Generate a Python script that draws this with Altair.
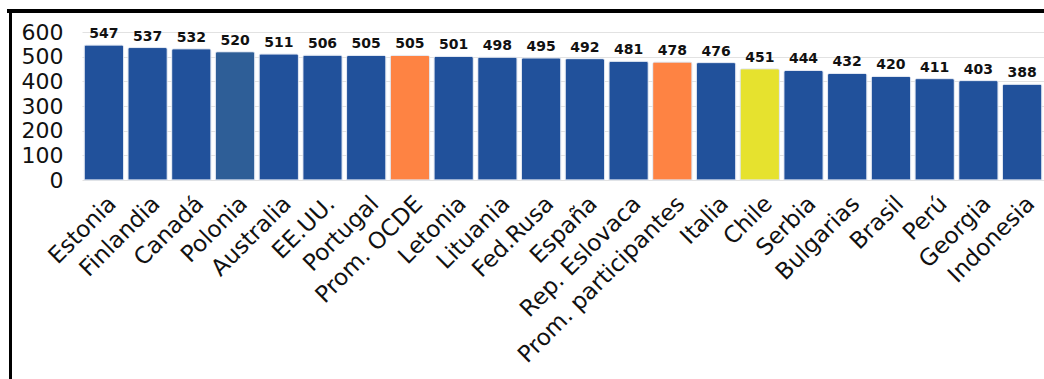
import altair as alt
import pandas as pd

countries = ["Estonia", "Finlandia", "Canadá", "Polonia", "Australia", "EE.UU.", "Portugal",
             "Prom. OCDE", "Letonia", "Lituania", "Fed.Rusa", "España", "Rep. Eslovaca",
             "Prom. participantes", "Italia", "Chile", "Serbia", "Bulgarias", "Brasil",
             "Perú", "Georgia", "Indonesia"]
scores = [547, 537, 532, 520, 511, 506, 505, 505, 501, 498, 495, 492, 481, 478, 476,
          451, 444, 432, 420, 411, 403, 388]
groups = ["país", "país", "país", "Polonia", "país", "país", "país", "promedio", "país",
          "país", "país", "país", "país", "promedio", "país", "Chile", "país", "país",
          "país", "país", "país", "país"]
y_ticks = [0, 100, 200, 300, 400, 500, 600]

df = pd.DataFrame({"pais": countries, "puntaje": scores, "grupo": groups})

FONT = "DejaVu Sans"
W, H = 962, 148

x_enc = alt.X("pais:N", sort=countries, title=None,
              scale=alt.Scale(paddingInner=0.1, paddingOuter=0.05),
              axis=alt.Axis(labelAngle=-45, labelAlign="right", labelBaseline="top",
                            labelFontSize=23, labelFont=FONT, labelColor="#111",
                            labelPadding=12, labelOffset=1, ticks=False, domain=False,
                            labelOverlap=False, labelLimit=400, labelBound=False))
y_enc = alt.Y("puntaje:Q", title=None,
              scale=alt.Scale(domain=[0, 600], nice=False),
              axis=alt.Axis(values=y_ticks, labelFontSize=22, labelFont=FONT,
                            labelColor="#111", labelPadding=19, ticks=False,
                            labelOverlap=False, domain=False, gridColor="#e2e2e2",
                            gridWidth=1))

color_enc = alt.Color("grupo:N", legend=None,
                      scale=alt.Scale(domain=["país", "Polonia", "promedio", "Chile"],
                                      range=["#21519b", "#2e5e97", "#fe8343", "#e6e22e"]))

bars = alt.Chart(df).mark_bar(cornerRadiusTopLeft=2, cornerRadiusTopRight=2,
                              stroke="#dfe6f1", strokeWidth=0.8).encode(
    x=x_enc, y=y_enc, color=color_enc)

labels = alt.Chart(df).mark_text(baseline="bottom", dy=-4, fontSize=14,
                                 fontWeight="bold", font=FONT, color="#111").encode(
    x=x_enc, y=y_enc, text="puntaje:Q")

frame_top = alt.Chart(df).mark_rule(color="#000", strokeWidth=3).encode(
    x=alt.value(-75), x2=alt.value(W + 20), y=alt.value(-21))
frame_left = alt.Chart(df).mark_rule(color="#000", strokeWidth=3).encode(
    x=alt.value(-71.5), y=alt.value(-22.5), y2=alt.value(H + 220))

chart = alt.layer(bars, labels, frame_top, frame_left).properties(
    width=W, height=H,
    autosize=alt.AutoSizeParams(type="none"),
    padding={"left": 82, "top": 32, "right": 0, "bottom": 199},
    background="white",
).configure_view(stroke=None)

chart.save("out.html", embed_options={"renderer": "svg", "actions": False})
